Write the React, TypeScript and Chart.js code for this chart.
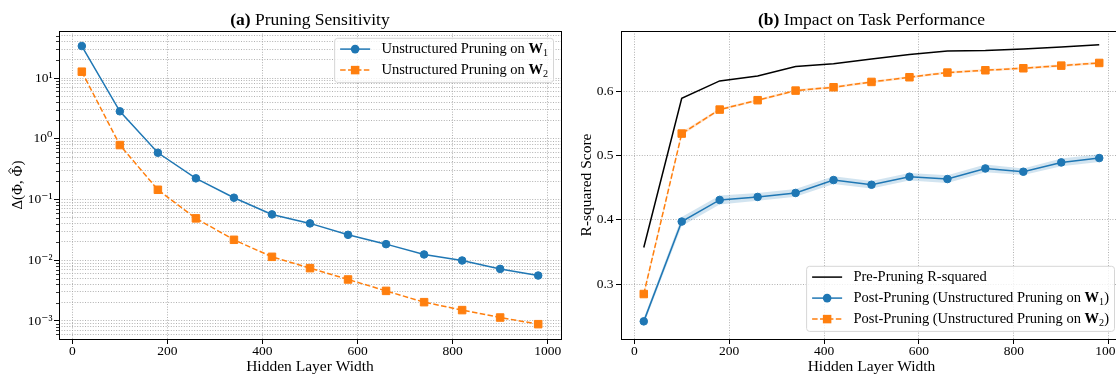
import React, { useEffect, useRef } from "react";
import { Chart, registerables } from "chart.js";

Chart.register(...registerables);

// ---------------- data ----------------
const widths = [20, 100, 180, 260, 340, 420, 500, 580, 660, 740, 820, 900, 980];

const sensW1 = [33.6, 2.83, 0.588, 0.223, 0.107, 0.0568, 0.0404, 0.0262, 0.0184, 0.01245, 0.0099, 0.0072, 0.0056];
const sensW2 = [12.7, 0.787, 0.1445, 0.0489, 0.0217, 0.01138, 0.00741, 0.00482, 0.00313, 0.00204, 0.00151, 0.00114, 0.000886];

const preR2 = [0.357, 0.5897, 0.6167, 0.6244, 0.639, 0.6436, 0.651, 0.658, 0.6634, 0.664, 0.6664, 0.6696, 0.6732];
const postW1 = [0.2418, 0.3974, 0.4311, 0.4358, 0.442, 0.4621, 0.4548, 0.4673, 0.4637, 0.4802, 0.4751, 0.4896, 0.4964];
const postW1Err = [0.005, 0.007, 0.007, 0.006, 0.006, 0.006, 0.006, 0.006, 0.006, 0.006, 0.005, 0.006, 0.006];
const postW2 = [0.2844, 0.5346, 0.572, 0.5866, 0.6016, 0.6068, 0.6151, 0.6224, 0.6297, 0.6333, 0.6364, 0.6405, 0.6447];
const postW2Err = [0.004, 0.003, 0.002, 0.002, 0.002, 0.002, 0.002, 0.002, 0.002, 0.002, 0.002, 0.002, 0.002];

const xTicks = [0, 200, 400, 600, 800, 1000];
const rTicks = [0.3, 0.4, 0.5, 0.6];
const logDecades = [-4, -3, -2, -1, 0, 1];
const logMantissas = [1, 2, 3, 4, 5, 6, 7, 8, 9];

const labelW1 = "Unstructured Pruning on W_1";
const labelW2 = "Unstructured Pruning on W_2";
const labelPre = "Pre-Pruning R-squared";
const labelPostW1 = "Post-Pruning (Unstructured Pruning on W_1)";
const labelPostW2 = "Post-Pruning (Unstructured Pruning on W_2)";
const leftYTitle = ["\u0394(\u03A6, ", "\u03A6", ")"]; // Δ(Φ, Φ̂) — hat drawn over the middle part

const X_MIN = -28;
const X_MAX = 1028;
const LOG_MIN = 5.05e-4;
const LOG_MAX = 59.4;
const R_MIN = 0.2143;
const R_MAX = 0.6945;

// ---------------- styling ----------------
const FONT = '"Liberation Serif", "DejaVu Serif", serif';
const BLUE = "#1f77b4";
const ORANGE = "#ff7f0e";
const GRID = "#a8a8a8";
const TICK_FONT = { family: FONT, size: 13.5, lineHeight: 0.75 };
const AXIS_TITLE_FONT = { family: FONT, size: 15.5, lineHeight: 1.2 };

const isPow10 = (v: number) => {
  const l = Math.log10(v);
  return Math.abs(l - Math.round(l)) < 1e-6;
};
const SUP: Record<string, string> = {
  "-": "\u207B", "0": "\u2070", "1": "\u00B9", "2": "\u00B2", "3": "\u00B3",
  "4": "\u2074", "5": "\u2075", "6": "\u2076", "7": "\u2077", "8": "\u2078", "9": "\u2079",
};
const pow10Label = (v: number) =>
  "10" + String(Math.round(Math.log10(v))).split("").map((c) => SUP[c]).join("");

const logTickValues = logDecades
  .flatMap((d) => logMantissas.map((m) => +(m * Math.pow(10, d)).toPrecision(6)))
  .filter((v) => v >= LOG_MIN && v <= LOG_MAX);

// ---------------- rich text helpers ----------------
function parseLabel(s: string) {
  const m = s.match(/^(.*?)W_(\d)(.*)$/);
  return m ? { pre: m[1], sub: m[2], post: m[3] } : { pre: s, sub: "", post: "" };
}

function richText(ctx: CanvasRenderingContext2D, s: string, x: number, y: number, size: number, draw: boolean) {
  const p = parseLabel(s);
  let cx = x;
  ctx.textAlign = "left";
  ctx.textBaseline = "middle";
  ctx.font = `${size}px ${FONT}`;
  if (draw) ctx.fillText(p.pre, cx, y);
  cx += ctx.measureText(p.pre).width;
  if (p.sub) {
    ctx.font = `bold ${size}px ${FONT}`;
    if (draw) ctx.fillText("W", cx, y);
    cx += ctx.measureText("W").width;
    ctx.font = `${size * 0.7}px ${FONT}`;
    if (draw) ctx.fillText(p.sub, cx, y + size * 0.28);
    cx += ctx.measureText(p.sub).width;
    ctx.font = `${size}px ${FONT}`;
    if (draw) ctx.fillText(p.post, cx, y);
    cx += ctx.measureText(p.post).width;
  }
  return cx - x;
}

type Decor = {
  titleBold: string;
  titleRest: string;
  legendCorner: "tr" | "br";
  minorY?: boolean;
  hatYTitle?: string[];
  hatYTitleX?: number;
};

function makeDecor(d: Decor) {
  return {
    id: "decor",
    afterDraw(chart: any) {
      const ctx: CanvasRenderingContext2D = chart.ctx;
      const a = chart.chartArea;
      ctx.save();

      // minor y ticks (log axis)
      if (d.minorY) {
        const ys = chart.scales.y;
        ctx.strokeStyle = "#000";
        ctx.lineWidth = 0.8;
        ys.ticks.forEach((t: any) => {
          if (!isPow10(t.value)) {
            const py = Math.round(ys.getPixelForValue(t.value)) + 0.5;
            ctx.beginPath();
            ctx.moveTo(a.left - 3, py);
            ctx.lineTo(a.left, py);
            ctx.stroke();
          }
        });
      }

      // frame
      ctx.strokeStyle = "#000";
      ctx.lineWidth = 1;
      ctx.setLineDash([]);
      ctx.strokeRect(Math.round(a.left) + 0.5, Math.round(a.top) + 0.5, Math.round(a.right - a.left), Math.round(a.bottom - a.top));

      // rotated y title with a hat over the middle glyph
      if (d.hatYTitle) {
        const size = 15;
        ctx.save();
        ctx.translate(d.hatYTitleX || 17, (a.top + a.bottom) / 2);
        ctx.rotate(-Math.PI / 2);
        ctx.fillStyle = "#000";
        ctx.textBaseline = "alphabetic";
        ctx.textAlign = "left";
        ctx.font = `${size}px ${FONT}`;
        const parts = d.hatYTitle;
        const ws = parts.map((p) => ctx.measureText(p).width);
        const total = ws.reduce((s, w) => s + w, 0);
        let x = -total / 2;
        const base = size * 0.3;
        parts.forEach((p, i) => {
          ctx.fillText(p, x, base);
          if (i === 1) {
            const hx = x + ws[i] / 2;
            const hy = base - size * 0.78;
            ctx.strokeStyle = "#000";
            ctx.lineWidth = 0.9;
            ctx.beginPath();
            ctx.moveTo(hx - 3, hy + 1.4);
            ctx.lineTo(hx, hy - 1.3);
            ctx.lineTo(hx + 3, hy + 1.4);
            ctx.stroke();
          }
          x += ws[i];
        });
        ctx.restore();
      }

      // title
      const tSize = 17.5;
      ctx.fillStyle = "#000";
      ctx.textBaseline = "middle";
      ctx.textAlign = "left";
      ctx.font = `bold ${tSize}px ${FONT}`;
      const wb = ctx.measureText(d.titleBold).width;
      ctx.font = `${tSize}px ${FONT}`;
      const wr = ctx.measureText(d.titleRest).width;
      const cx = (a.left + a.right) / 2;
      let tx = cx - (wb + wr) / 2;
      ctx.font = `bold ${tSize}px ${FONT}`;
      ctx.fillText(d.titleBold, tx, 20.5);
      tx += wb;
      ctx.font = `${tSize}px ${FONT}`;
      ctx.fillText(d.titleRest, tx, 20.5);

      // legend
      const lSize = 14.5;
      const items = chart.data.datasets.filter((ds: any) => ds.label);
      let maxW = 0;
      items.forEach((ds: any) => {
        maxW = Math.max(maxW, richText(ctx, ds.label, 0, 0, lSize, false));
      });
      const padL = 5.5, handle = 30, gap = 11.3, padR = 5.5;
      const padT = 10.8, rowH = 21, padB = 12.3;
      const boxW = padL + handle + gap + maxW + padR;
      const boxH = padT + (items.length - 1) * rowH + padB;
      const bx = a.right - 7.5 - boxW;
      const by = d.legendCorner === "tr" ? a.top + 7.3 : a.bottom - 7.6 - boxH;

      ctx.beginPath();
      const r = 3;
      ctx.moveTo(bx + r, by);
      ctx.arcTo(bx + boxW, by, bx + boxW, by + boxH, r);
      ctx.arcTo(bx + boxW, by + boxH, bx, by + boxH, r);
      ctx.arcTo(bx, by + boxH, bx, by, r);
      ctx.arcTo(bx, by, bx + boxW, by, r);
      ctx.closePath();
      ctx.fillStyle = "rgba(255,255,255,0.8)";
      ctx.fill();
      ctx.strokeStyle = "#d6d6d6";
      ctx.lineWidth = 1;
      ctx.stroke();

      items.forEach((ds: any, i: number) => {
        const y = by + padT + i * rowH;
        const x0 = bx + padL;
        const x1 = x0 + handle;
        ctx.save();
        ctx.strokeStyle = ds.borderColor;
        ctx.lineWidth = ds.borderWidth;
        ctx.setLineDash(ds.borderDash || []);
        ctx.beginPath();
        ctx.moveTo(x0, y);
        ctx.lineTo(x1, y);
        ctx.stroke();
        ctx.restore();
        if (ds.pointRadius > 0) {
          const mx = (x0 + x1) / 2;
          ctx.fillStyle = ds.pointBackgroundColor;
          ctx.beginPath();
          if (ds.pointStyle === "rect") {
            const h = ds.pointRadius * Math.SQRT1_2 + 0.5;
            ctx.rect(mx - h, y - h, 2 * h, 2 * h);
          } else {
            ctx.arc(mx, y, ds.pointRadius + 0.5, 0, Math.PI * 2);
          }
          ctx.fill();
        }
        ctx.fillStyle = "#000";
        richText(ctx, ds.label, x1 + gap, y, lSize, true);
      });

      ctx.restore();
    },
  };
}

function xScale() {
  return {
    type: "linear",
    min: X_MIN,
    max: X_MAX,
    afterBuildTicks: (s: any) => {
      s.ticks = xTicks.map((v) => ({ value: v }));
    },
    afterFit: (s: any) => {
      s.height = 36;
    },
    ticks: {
      autoSkip: false,
      maxRotation: 0,
      font: TICK_FONT,
      color: "#000",
      padding: 2,
      callback: (v: any) => String(Math.round(Number(v))),
    },
    grid: { color: GRID, lineWidth: 0.9, tickLength: 5, tickColor: "#000", tickWidth: 1, tickBorderDash: [] },
    border: { display: false, dash: [1, 1.6] },
    title: {
      display: true,
      text: "Hidden Layer Width",
      color: "#000",
      font: { family: FONT, size: 15.5, lineHeight: 1.1 },
      padding: { top: 0, bottom: 0 },
    },
  };
}

function lineDs(label: string, ys: number[], color: string, style: "circle" | "rect", dashed: boolean, order: number) {
  return {
    label,
    data: widths.map((x, i) => ({ x, y: ys[i] })),
    borderColor: color,
    backgroundColor: color,
    borderWidth: 1.5,
    borderDash: dashed ? [5.5, 2.4] : [],
    pointStyle: style,
    pointRadius: style === "rect" ? 5.3 : 3.8,
    pointBorderWidth: 1,
    pointBackgroundColor: color,
    pointBorderColor: color,
    tension: 0,
    fill: false,
    order,
  };
}

function bandDs(ys: number[], err: number[], sign: number, fillColor: string, order: number) {
  return {
    label: "",
    data: widths.map((x, i) => ({ x, y: ys[i] + sign * err[i] })),
    borderWidth: 0,
    borderColor: "rgba(0,0,0,0)",
    backgroundColor: fillColor,
    pointRadius: 0,
    tension: 0,
    fill: sign > 0 ? "-1" : false,
    order,
  };
}

function leftConfig(): any {
  return {
    type: "line",
    data: {
      datasets: [
        lineDs(labelW1, sensW1, BLUE, "circle", false, 2),
        lineDs(labelW2, sensW2, ORANGE, "rect", true, 1),
      ],
    },
    options: {
      animation: false,
      responsive: false,
      devicePixelRatio: 1,
      events: [],
      layout: { padding: { top: 31, right: 9, bottom: 0, left: 0 } },
      plugins: { legend: { display: false }, title: { display: false }, tooltip: { enabled: false } },
      scales: {
        x: xScale(),
        y: {
          type: "logarithmic",
          min: LOG_MIN,
          max: LOG_MAX,
          afterBuildTicks: (s: any) => {
            s.ticks = logTickValues.map((v) => ({ value: v, major: isPow10(v) }));
          },
          afterFit: (s: any) => {
            s.width = 59;
          },
          ticks: {
            autoSkip: false,
            callback: (v: any) => (isPow10(Number(v)) ? pow10Label(Number(v)) : ""),
            font: TICK_FONT,
            color: "#000",
            padding: 1.5,
          },
          grid: {
            color: GRID,
            lineWidth: 0.9,
            tickLength: 5,
            tickWidth: 1,
            tickBorderDash: [],
            tickColor: (c: any) => (c.tick && isPow10(c.tick.value) ? "#000" : "rgba(0,0,0,0)"),
          },
          border: { display: false, dash: [1, 1.6] },
          title: { display: false },
        },
      },
    },
    plugins: [
      makeDecor({
        titleBold: "(a)",
        titleRest: " Pruning Sensitivity",
        legendCorner: "tr",
        minorY: true,
        hatYTitle: leftYTitle,
        hatYTitleX: 17,
      }),
    ],
  };
}

function rightConfig(): any {
  return {
    type: "line",
    data: {
      datasets: [
        { ...lineDs(labelPre, preR2, "#000", "circle", false, 5), pointRadius: 0 },
        lineDs(labelPostW1, postW1, BLUE, "circle", false, 3),
        lineDs(labelPostW2, postW2, ORANGE, "rect", true, 1),
        bandDs(postW1, postW1Err, -1, "rgba(31,119,180,0.2)", 4),
        bandDs(postW1, postW1Err, 1, "rgba(31,119,180,0.2)", 4),
        bandDs(postW2, postW2Err, -1, "rgba(255,127,14,0.2)", 2),
        bandDs(postW2, postW2Err, 1, "rgba(255,127,14,0.2)", 2),
      ],
    },
    options: {
      animation: false,
      responsive: false,
      devicePixelRatio: 1,
      events: [],
      layout: { padding: { top: 31, right: 8, bottom: 0, left: 0 } },
      plugins: { legend: { display: false }, title: { display: false }, tooltip: { enabled: false } },
      scales: {
        x: xScale(),
        y: {
          type: "linear",
          min: R_MIN,
          max: R_MAX,
          afterBuildTicks: (s: any) => {
            s.ticks = rTicks.map((v) => ({ value: v }));
          },
          afterFit: (s: any) => {
            s.width = 46;
          },
          ticks: {
            autoSkip: false,
            callback: (v: any) => Number(v).toFixed(1),
            font: TICK_FONT,
            color: "#000",
            padding: 2.5,
          },
          grid: { color: GRID, lineWidth: 0.9, tickLength: 5, tickWidth: 1, tickColor: "#000", tickBorderDash: [] },
          border: { display: false, dash: [1, 1.6] },
          title: {
            display: true,
            text: "R-squared Score",
            color: "#000",
            font: AXIS_TITLE_FONT,
            padding: { top: 2.4, bottom: 0 },
          },
        },
      },
    },
    plugins: [makeDecor({ titleBold: "(b)", titleRest: " Impact on Task Performance", legendCorner: "br" })],
  };
}

export default function App() {
  const leftRef = useRef<HTMLCanvasElement>(null);
  const rightRef = useRef<HTMLCanvasElement>(null);

  useEffect(() => {
    const c1 = new Chart(leftRef.current as HTMLCanvasElement, leftConfig());
    const c2 = new Chart(rightRef.current as HTMLCanvasElement, rightConfig());
    return () => {
      c1.destroy();
      c2.destroy();
    };
  }, []);

  return (
    <div style={{ position: "fixed", left: 0, top: 0, width: 1116, height: 375, overflow: "hidden", background: "#fff" }}>
      <canvas ref={leftRef} width={570} height={375} style={{ position: "absolute", left: 0, top: 0, width: 570, height: 375 }} />
      <canvas ref={rightRef} width={555} height={375} style={{ position: "absolute", left: 575, top: 0, width: 555, height: 375 }} />
    </div>
  );
}
